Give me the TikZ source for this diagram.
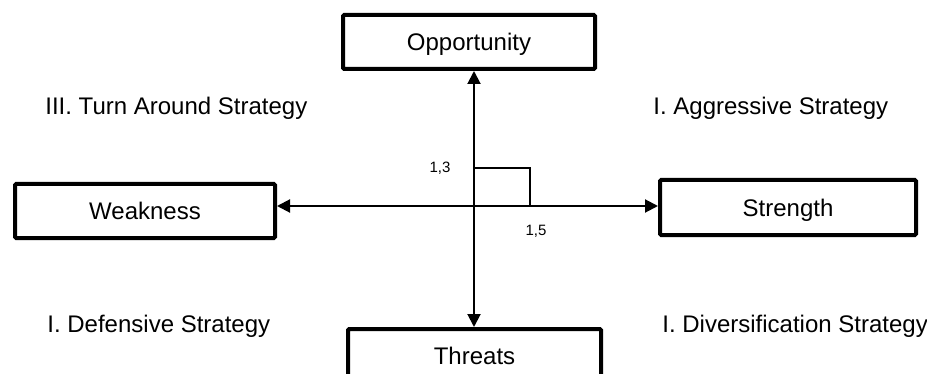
\documentclass[tikz,border=0pt]{standalone}
\usepackage{fontspec}
\setmainfont{Liberation Sans}
\usetikzlibrary{arrows.meta}

\begin{document}
\begin{tikzpicture}
[x=0.5pt, y=-0.5pt,
box/.style={draw, line width=2pt, rounded corners=0.6pt, minimum height=27pt, inner sep=0pt,
  text height=8.6pt, text depth=0pt, font=\fontsize{12}{14}\selectfont},
lbl/.style={anchor=west, inner sep=0pt, font=\fontsize{12}{14}\selectfont},
num/.style={inner sep=0pt, font=\fontsize{7.5}{9}\selectfont},
link/.style={line width=1pt, {Triangle[length=6.5pt,width=6.5pt]}-{Triangle[length=6.5pt,width=6.5pt]}},
]
\useasboundingbox (0,0) rectangle (927,374);

\node[box, minimum width=126pt] (opp) at (469,42) {Opportunity};
\node[box, minimum width=130pt] (weak) at (145,211) {Weakness};
\node[box, minimum width=128pt, minimum height=27.5pt] (str) at (788,207.5) {Strength};
\node[box, minimum width=126.5pt] (thr) at (474.5,356) {Threats};

\coordinate (c) at (474,206);

\draw[link] (c |- opp.south) -- (c |- thr.north);
\draw[link] (weak.east |- c) -- (str.west |- c);

% right angle mark
\coordinate (m1) at (474,168);
\coordinate (m2) at (530,168);
\draw[line width=1pt] (m1) -- (m2) -- (m2 |- c);

\node[num] (n13) at (440,168) {1,3};
\node[num] (n15) at (536,231) {1,5};

\node[lbl] (q3) at (45,108) {III. Turn Around Strategy};
\node[lbl] (q1) at (653,108) {I. Aggressive Strategy};
\node[lbl] (q4) at (47,326) {I. Defensive Strategy};
\node[lbl] (q2) at (662,326) {I. Diversification Strategy};
\end{tikzpicture}
\end{document}
